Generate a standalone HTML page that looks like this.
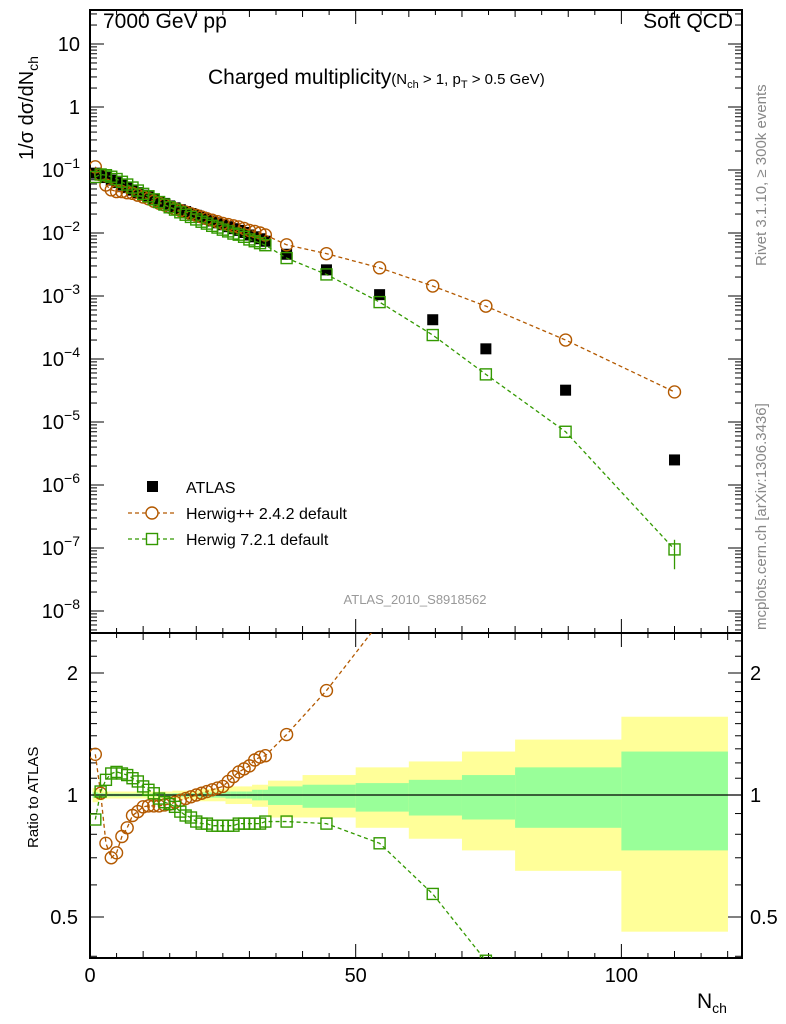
<!DOCTYPE html>
<html><head><meta charset="utf-8"><style>
html,body{margin:0;padding:0;background:#fff;width:786px;height:1024px;overflow:hidden}
svg{display:block;font-family:"Liberation Sans",sans-serif}
</style></head><body>
<svg id="c" width="786" height="1024" viewBox="0 0 786 1024"></svg>
<script>
const nDense=[1,2,3,4,5,6,7,8,9,10,11,12,13,14,15,16,17,18,19,20,21,22,23,24,25,26,27,28,29,30,31,32,33];
const nSparse=[37,44.5,54.5,64.5,74.5,89.5,110];
const atlasVals=[0.0891,0.0832,0.0759,0.0692,0.0631,0.0575,0.0525,0.0479,0.0437,0.0398,0.0372,0.0339,0.0316,0.0295,0.0269,0.0251,0.0234,0.0219,0.0204,0.0191,0.0178,0.0166,0.0155,0.0145,0.0135,0.0126,0.0117,0.0110,0.0102,0.0093,0.0087,0.0081,0.0074,0.0046,0.0026,0.00105,0.00042,0.000145,3.2e-5,2.5e-6];
const hppVals=[0.1123,0.0840,0.0577,0.0484,0.0454,0.0454,0.0436,0.0426,0.0398,0.0372,0.0350,0.0319,0.0297,0.0279,0.0256,0.0241,0.0227,0.0215,0.0202,0.0191,0.0180,0.0169,0.0160,0.0151,0.0142,0.0136,0.0130,0.0125,0.0118,0.0110,0.0106,0.0100,0.0093,0.0065,0.0047,0.0028,0.00144,0.00069,0.0002,3.0e-5];
const h7Vals=[0.0775,0.0849,0.0827,0.0782,0.0719,0.0650,0.0588,0.0527,0.0472,0.0418,0.0383,0.0342,0.0310,0.0283,0.0256,0.0235,0.0213,0.0195,0.0180,0.0164,0.0151,0.0141,0.0130,0.0122,0.0113,0.0106,0.0098,0.0094,0.0087,0.0079,0.0074,0.0069,0.0064,0.0040,0.0022,0.0008,0.00024,5.7e-5,7.0e-6,9.5e-8];
const hppRatio=[1.26,1.01,0.76,0.70,0.72,0.79,0.83,0.89,0.91,0.935,0.94,0.94,0.94,0.945,0.95,0.96,0.97,0.98,0.99,1.0,1.01,1.02,1.03,1.04,1.05,1.08,1.11,1.14,1.16,1.18,1.22,1.24,1.25,1.41,1.81,2.67,3.43,4.8,6.2,12];
const h7Ratio=[0.87,1.02,1.09,1.13,1.14,1.13,1.12,1.10,1.08,1.05,1.03,1.01,0.98,0.96,0.95,0.935,0.91,0.89,0.88,0.86,0.85,0.85,0.84,0.84,0.84,0.84,0.84,0.85,0.85,0.85,0.85,0.85,0.86,0.86,0.85,0.76,0.57,0.39,0.22,0.038];
const h7LastErr=[4.6e-8,1.35e-7];
const bandLo=[0.5,1.5,2.5,3.5,4.5,5.5,6.5,7.5,8.5,9.5,10.5,11.5,12.5,13.5,14.5,15.5,16.5,17.5,18.5,19.5,20.5,21.5,22.5,23.5,24.5,25.5,26.5,27.5,28.5,29.5,30.5,31.5,32.5,33.5,40,50,60,70,80,100];
const bandHi=[1.5,2.5,3.5,4.5,5.5,6.5,7.5,8.5,9.5,10.5,11.5,12.5,13.5,14.5,15.5,16.5,17.5,18.5,19.5,20.5,21.5,22.5,23.5,24.5,25.5,26.5,27.5,28.5,29.5,30.5,31.5,32.5,33.5,40,50,60,70,80,100,120];
const yelUp=[1.04,1.03,1.02,1.02,1.02,1.02,1.02,1.02,1.02,1.02,1.02,1.02,1.02,1.02,1.02,1.025,1.025,1.025,1.025,1.025,1.035,1.035,1.035,1.035,1.035,1.05,1.05,1.05,1.05,1.05,1.06,1.06,1.06,1.085,1.12,1.17,1.21,1.28,1.37,1.56];
const yelDn=[0.96,0.97,0.98,0.98,0.98,0.98,0.98,0.98,0.98,0.98,0.98,0.98,0.98,0.98,0.98,0.975,0.975,0.975,0.975,0.975,0.965,0.965,0.965,0.965,0.965,0.95,0.95,0.95,0.95,0.95,0.935,0.935,0.935,0.88,0.88,0.83,0.78,0.73,0.65,0.46];
const grnUp=[1.015,1.01,1.008,1.008,1.008,1.008,1.008,1.008,1.008,1.008,1.008,1.008,1.008,1.008,1.008,1.01,1.01,1.01,1.01,1.01,1.015,1.015,1.015,1.015,1.015,1.02,1.02,1.02,1.02,1.02,1.03,1.03,1.03,1.05,1.06,1.07,1.09,1.12,1.17,1.28];
const grnDn=[0.985,0.99,0.992,0.992,0.992,0.992,0.992,0.992,0.992,0.992,0.992,0.992,0.992,0.992,0.992,0.99,0.99,0.99,0.99,0.99,0.985,0.985,0.985,0.985,0.985,0.98,0.98,0.98,0.98,0.98,0.97,0.97,0.97,0.945,0.93,0.91,0.89,0.87,0.83,0.73];
const mainTickExp=[1,0,-1,-2,-3,-4,-5,-6,-7,-8];
const xTickLabels=[0,50,100];
const ratioTicks=[2,1,0.5];

const NS='http://www.w3.org/2000/svg';
const svg=document.getElementById('c');
function el(t,a,p){const e=document.createElementNS(NS,t);for(const k in a)e.setAttribute(k,a[k]);(p||svg).appendChild(e);return e;}
const L=90,R=742,XMAX=122.7,T1=10,B1=633,T2=633,B2=958;
const X=v=>L+v*(R-L)/XMAX;
const Y=v=>44-(Math.log10(v)-1)*63;
const YR=r=>795-Math.log2(r)*122;
const xs=nDense.concat(nSparse);

const defs=el('defs',{});
const c1=el('clipPath',{id:'cm'},defs);el('rect',{x:L,y:T1,width:R-L,height:B1-T1},c1);
const c2=el('clipPath',{id:'cr'},defs);el('rect',{x:L,y:T2,width:R-L,height:B2-T2},c2);

const gb=el('g',{'clip-path':'url(#cr)'});


for(let i=0;i<bandLo.length;i++){
  const y=el('rect',{x:X(bandLo[i]),y:YR(yelUp[i]),width:X(bandHi[i])-X(bandLo[i])+0.3,height:YR(yelDn[i])-YR(yelUp[i]),fill:'#ffff99'},gb);
  
  
  const g=el('rect',{x:X(bandLo[i]),y:YR(grnUp[i]),width:X(bandHi[i])-X(bandLo[i])+0.3,height:YR(grnDn[i])-YR(grnUp[i]),fill:'#99ff99'},gb);
  
  
}
el('line',{x1:L,x2:R,y1:YR(1),y2:YR(1),stroke:'#000','stroke-width':1.2},gb);

for(const [t,b,n] of [[T1,B1,'main-frame'],[T2,B2,'ratio-frame']]){
  const f=el('rect',{x:L,y:t,width:R-L,height:b-t,fill:'none',stroke:'#000','stroke-width':2});
  
  
}
for(let v=0;v<=120;v+=5){
  const big=v%50===0, mid=v%10===0;
  const len=big?14:(mid?7:5);
  for(const [t,b] of [[T1,B1],[T2,B2]]){
    el('line',{x1:X(v),x2:X(v),y1:b,y2:b-len,stroke:'#000','stroke-width':1});
    el('line',{x1:X(v),x2:X(v),y1:t,y2:t+len,stroke:'#000','stroke-width':1});
  }
}
xTickLabels.forEach(v=>{const t=el('text',{x:X(v),y:982,'font-size':20,'text-anchor':'middle'});t.textContent=v;

});
mainTickExp.forEach(e=>{
  const y=Y(Math.pow(10,e));
  el('line',{x1:L,x2:L+14,y1:y,y2:y,stroke:'#000'});el('line',{x1:R,x2:R-14,y1:y,y2:y,stroke:'#000'});
  for(let m=2;m<=9;m++){const ym=Y(m*Math.pow(10,e-1));if(ym<T1||ym>B1)continue;
    el('line',{x1:L,x2:L+7,y1:ym,y2:ym,stroke:'#000'});el('line',{x1:R,x2:R-7,y1:ym,y2:ym,stroke:'#000'});}
  const t=el('text',{x:80,y:y+7,'font-size':20,'text-anchor':'end'});
  
  
  if(e===1)t.textContent='10';else if(e===0)t.textContent='1';
  else{t.textContent='10';const s=el('tspan',{dy:-9,'font-size':14},t);s.textContent=String(e).replace('-','−');}
});
for(let m=2;m<=9;m++){const ym=Y(m*10);if(ym>=T1){el('line',{x1:L,x2:L+7,y1:ym,y2:ym,stroke:'#000'});el('line',{x1:R,x2:R-7,y1:ym,y2:ym,stroke:'#000'});}}
ratioTicks.forEach(r=>{const y=YR(r);
  el('line',{x1:L,x2:L+14,y1:y,y2:y,stroke:'#000'});el('line',{x1:R,x2:R-14,y1:y,y2:y,stroke:'#000'});
  const t=el('text',{x:78,y:y+7,'font-size':20,'text-anchor':'end'});t.textContent=r;
  
  
  const t2=el('text',{x:750,y:y+7,'font-size':20});t2.textContent=r;
  
  
});
[0.4,0.6,0.7,0.8,0.9,1.1,1.2,1.3,1.4,1.5,1.6,1.7,1.8,1.9,2.2,2.4].forEach(r=>{const y=YR(r);if(y<T2||y>B2)return;
  el('line',{x1:L,x2:L+7,y1:y,y2:y,stroke:'#000'});el('line',{x1:R,x2:R-7,y1:y,y2:y,stroke:'#000'});});

function series(vals,yf,color,shape,clip,name){
  const g=el('g',{'clip-path':clip});
  
  
  if(color!=='#000'){
    el('polyline',{points:xs.map((x,i)=>X(x)+','+yf(vals[i])).join(' '),fill:'none',stroke:color,'stroke-width':1.3,'stroke-dasharray':'4,3'},g);
  }
  xs.forEach((x,i)=>{
    const cx=X(x),cy=yf(vals[i]);let m;
    if(shape==='circle')m=el('circle',{cx,cy,r:6,fill:'none',stroke:color,'stroke-width':1.4},g);
    else if(shape==='open')m=el('rect',{x:cx-5.5,y:cy-5.5,width:11,height:11,fill:'none',stroke:color,'stroke-width':1.4},g);
    else m=el('rect',{x:cx-5.5,y:cy-5.5,width:11,height:11,fill:'#000'},g);
    
    
  });
  return g;
}
series(atlasVals,Y,'#000','fill','url(#cm)','atlas-data');
series(hppVals,Y,'#b35900','circle','url(#cm)','herwigpp-242');
const g7=series(h7Vals,Y,'#339900','open','url(#cm)','herwig-721');
el('line',{x1:X(110),x2:X(110),y1:Y(h7LastErr[1]),y2:Y(h7LastErr[0]),stroke:'#339900','stroke-width':1.3},g7);
series(hppRatio,YR,'#b35900','circle','url(#cr)','herwigpp-ratio');
series(h7Ratio,YR,'#339900','open','url(#cr)','herwig7-ratio');

function txt(s,a,name){const t=el('text',a);t.textContent=s;

return t;}
txt('7000 GeV pp',{x:103,y:28,'font-size':21},'energy-label');
txt('Soft QCD',{x:733,y:28,'font-size':21,'text-anchor':'end'},'process-label');
const tt=txt('Charged multiplicity',{x:208,y:84,'font-size':21},'plot-title');
const ts=el('tspan',{'font-size':15},tt);ts.textContent='(N';
const ts2=el('tspan',{'font-size':11,dy:4},tt);ts2.textContent='ch';
const ts3=el('tspan',{'font-size':15,dy:-4},tt);ts3.textContent=' > 1, p';
const ts4=el('tspan',{'font-size':11,dy:4},tt);ts4.textContent='T';
const ts5=el('tspan',{'font-size':15,dy:-4},tt);ts5.textContent=' > 0.5 GeV)';
const yl=txt('1/σ dσ/dN',{x:0,y:0,'font-size':20,transform:'translate(33,160) rotate(-90)'},'y-axis-title');
const yls=el('tspan',{'font-size':14,dy:5},yl);yls.textContent='ch';
txt('Ratio to ATLAS',{x:0,y:0,'font-size':15,transform:'translate(38,848) rotate(-90)'},'ratio-axis-title');
const xl=txt('N',{x:697,y:1008,'font-size':21},'x-axis-title');
const xls=el('tspan',{'font-size':14,dy:5},xl);xls.textContent='ch';
txt('Rivet 3.1.10, ≥ 300k events',{x:0,y:0,'font-size':15,fill:'#888',transform:'translate(766,266) rotate(-90)'},'rivet-version');
txt('mcplots.cern.ch [arXiv:1306.3436]',{x:0,y:0,'font-size':15,fill:'#888',transform:'translate(766,630) rotate(-90)'},'mcplots-credit');
txt('ATLAS_2010_S8918562',{x:415,y:604,'font-size':13,fill:'#999','text-anchor':'middle'},'analysis-id');
const lg=el('g',{});


el('rect',{x:147,y:481,width:11,height:11,fill:'#000'},lg);
txt('ATLAS',{x:186,y:493,'font-size':16},'legend-atlas');
el('line',{x1:128,x2:176,y1:513,y2:513,stroke:'#b35900','stroke-width':1.3,'stroke-dasharray':'4,3'},lg);
el('circle',{cx:152,cy:513,r:6,fill:'#fff',stroke:'#b35900','stroke-width':1.4},lg);
txt('Herwig++ 2.4.2 default',{x:186,y:519,'font-size':16},'legend-herwigpp');
el('line',{x1:128,x2:176,y1:539,y2:539,stroke:'#339900','stroke-width':1.3,'stroke-dasharray':'4,3'},lg);
el('rect',{x:146.5,y:533.5,width:11,height:11,fill:'#fff',stroke:'#339900','stroke-width':1.4},lg);
txt('Herwig 7.2.1 default',{x:186,y:545,'font-size':16},'legend-herwig7');
</script>
</body></html>
